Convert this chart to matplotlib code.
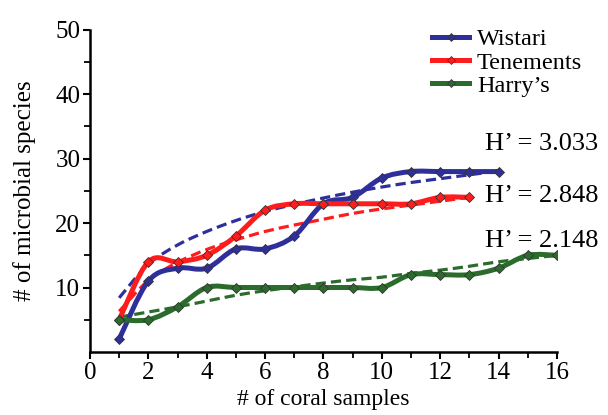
import numpy as np
import matplotlib
matplotlib.use("Agg")
import matplotlib.pyplot as plt
from matplotlib.path import Path
from matplotlib.patches import PathPatch
from matplotlib.lines import Line2D

plt.rcParams['font.family'] = ['Liberation Serif', 'DejaVu Serif']

# data
wistari_x = np.arange(1, 15)
wistari_y = [2, 11, 13, 13, 16, 16, 18, 23, 24, 27, 28, 28, 28, 28]
tenem_x = np.arange(1, 14)
tenem_y = [5, 14, 14, 15, 18, 22, 23, 23, 23, 23, 23, 24, 24]
harry_x = np.arange(1, 17)
harry_y = [5, 5, 7, 10, 10, 10, 10, 10, 10, 10, 12, 12, 12, 13, 15, 15]

# dashed trend curves, read at the same sample counts
wistari_trend = [8.4, 13.6, 16.6, 18.7, 20.4, 21.8, 22.9, 23.9, 24.8, 25.6, 26.3, 26.9, 27.5, 28.1]
tenem_trend = [6.3, 11.1, 13.9, 15.9, 17.4, 18.7, 19.7, 20.6, 21.5, 22.2, 22.8, 23.4, 24.0]
harry_trend = [5.4, 6.2, 7.0, 7.9, 8.8, 9.5, 10.1, 10.7, 11.2, 11.6, 12.2, 12.7, 13.3, 14.0, 14.5, 15.0]

names = ['Wistari', 'Tenements', "Harry’s"]
colors = ['#2f2f9c', '#ff1c1c', '#2b6b2b']
hvals = ['H’ = 3.033', 'H’ = 2.848', 'H’ = 2.148']
hpos = [(13.55, 32.3), (13.55, 24.2), (13.55, 17.2)]


def smooth_path(x, y):
    # catmull-rom through the points, as cubic bezier segments
    pts = np.column_stack([x, y]).astype(float)
    n = len(pts)
    verts = [pts[0]]
    codes = [Path.MOVETO]
    for i in range(n - 1):
        p0 = pts[max(i - 1, 0)]
        p1 = pts[i]
        p2 = pts[i + 1]
        p3 = pts[min(i + 2, n - 1)]
        verts += [p1 + (p2 - p0) / 6, p2 - (p3 - p1) / 6, p2]
        codes += [Path.CURVE4] * 3
    return Path(verts, codes)


fig = plt.figure(figsize=(6.08, 4.15), dpi=100)
ax = fig.add_axes([0.148, 0.152, 0.768, 0.776])

series = [(wistari_x, wistari_y, wistari_trend),
          (tenem_x, tenem_y, tenem_trend),
          (harry_x, harry_y, harry_trend)]
for (x, y, tr), c in zip(series, colors):
    ax.add_patch(PathPatch(smooth_path(x, tr), facecolor='none', edgecolor=c,
                           lw=2.3, linestyle=(0, (3.2, 1.6)), zorder=2))
    ax.add_patch(PathPatch(smooth_path(x, y), facecolor='none', edgecolor=c,
                           lw=3.6, capstyle='round', zorder=3))
    ax.plot(x, y, 'D', color=c, ms=5.5, mec='#333333', mew=0.6, zorder=4)

for t, (tx, ty) in zip(hvals, hpos):
    ax.text(tx, ty, t, fontsize=19, ha='left', va='center', clip_on=False)

handles = [Line2D([], [], color=c, lw=3.6, marker='D', ms=4, mec='#333333', mew=0.5)
           for c in colors]
ax.legend(handles, names, loc='upper right', bbox_to_anchor=(1.085, 1.05), frameon=False,
          fontsize=17.5, numpoints=1, handlelength=1.55, handletextpad=0.3,
          labelspacing=0.05, borderaxespad=0.2)

ax.set_xlim(0, 16)
ax.set_ylim(0, 50)
ax.set_xticks(np.arange(0, 17, 2))
ax.set_xticks(np.arange(1, 16, 2), minor=True)
ax.set_yticks(np.arange(10, 51, 10))
ax.set_yticks(np.arange(5, 50, 10), minor=True)
ax.spines['top'].set_visible(False)
ax.spines['right'].set_visible(False)
for s in ['left', 'bottom']:
    ax.spines[s].set_linewidth(1.8)
ax.tick_params(which='major', length=5, width=1.5, labelsize=18, pad=2)
ax.tick_params(which='minor', length=4, width=1.3)
ax.set_xlabel('# of coral samples', fontsize=17, labelpad=4)
ax.set_ylabel('# of microbial species', fontsize=18, labelpad=14)

fig.savefig('out.png', dpi=100)
